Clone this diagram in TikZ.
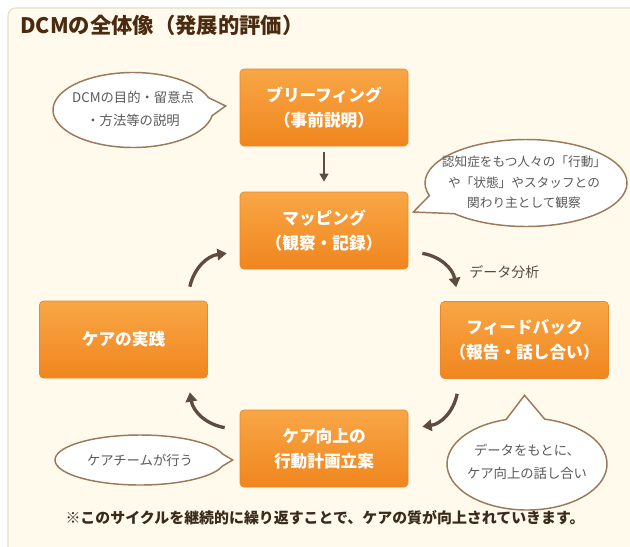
\documentclass[tikz,border=0pt]{standalone}
\usepackage{fontspec}
\setmainfont{Noto Sans CJK JP}
\usetikzlibrary{shapes.callouts,arrows.meta,calc}
\definecolor{panel}{HTML}{FFFAEB}
\definecolor{panelborder}{HTML}{E8DDC4}
\definecolor{titlecol}{HTML}{4A2A10}
\definecolor{notecol}{HTML}{3A2A1C}
\definecolor{arrowcol}{HTML}{5E4C3E}
\definecolor{bubbleborder}{HTML}{9A7A5A}
\definecolor{bubbletext}{HTML}{5A5A5A}
\definecolor{boxtop}{HTML}{F8A646}
\definecolor{boxbot}{HTML}{F0861E}
\definecolor{boxborder}{HTML}{E8882A}
\begin{document}
\begin{tikzpicture}[x=0.75pt,y=0.75pt,
 box/.style={rectangle, rounded corners=3pt, minimum width=126pt, minimum height=57.75pt,
   top color=boxtop, bottom color=boxbot, draw=boxborder, line width=0.5pt, text=white,
   font=\fontsize{12.5}{18.75}\selectfont\bfseries, align=center, inner sep=0pt},
 bubble/.style={ellipse callout, draw=bubbleborder, fill=white, line width=1.1pt, inner sep=0pt,
   callout pointer arc=28},
 btext/.style={text=bubbletext, align=center, inner sep=0pt},
 cyc/.style={draw=arrowcol, line width=2.5pt, -{Triangle[length=7pt,width=8.5pt]}, bend left=35},
 ]
\useasboundingbox (0,0) rectangle (630,-546);
\fill[white] (0,0) rectangle (630,-546);
\draw[panelborder, fill=panel, rounded corners=6pt, line width=0.8pt] (8,-8) rectangle (650,-570);

\node[anchor=west, text=titlecol, font=\fontsize{16}{18}\selectfont\bfseries, inner sep=0pt] (title) at (20,-25) {DCMの全体像（発展的評価）};

\node[box] (brief) at (324,-107.5) {ブリーフィング\\（事前説明）};
\node[box] (map) at (324,-230.5) {マッピング\\（観察・記録）};
\node[box] (care) at (123.5,-339.5) {ケアの実践};
\node[box] (fb) at (524.5,-340) {フィードバック\\（報告・話し合い）};
\node[box] (plan) at (324,-448.5) {ケア向上の\\行動計画立案};

\draw[draw=arrowcol, line width=1.5pt, -{Triangle[length=6pt,width=6.5pt]}] ($(brief.south)+(0,-6)$) -- ($(map.north)+(0,10)$);
\draw[cyc] ($(map.south east)+(14,16)$) to ($(fb.north west)+(16,14)$);
\draw[cyc] ($(fb.south west)+(17,-15)$) to ($(plan.north east)+(14,-17)$);
\draw[cyc] ($(plan.north west)+(-15,-18)$) to ($(care.south east)+(-18,-14)$);
\draw[cyc] ($(care.north east)+(-18,14)$) to ($(map.south west)+(-13,16)$);

\node[anchor=west, text=notecol!85, font=\fontsize{10.5}{12}\selectfont, inner sep=0pt] (lab) at (469,-272) {データ分析};

\node[bubble, minimum width=120pt, minimum height=56.25pt, callout absolute pointer={($(brief.west)+(-14,1.5)$)}] (b1) at (133,-110) {};
\node[btext, font=\fontsize{10}{17.25}\selectfont] (b1t) at (133,-108.5) {DCMの目的・留意点\\・方法等の説明};

\node[bubble, minimum width=151.5pt, minimum height=65.25pt, callout absolute pointer={($(map.east)+(5,18.5)$)}] (b2) at (526,-183) {};
\node[btext, font=\fontsize{9.5}{15.4}\selectfont] (b2t) at (524,-182.5) {認知症をもつ人々の「行動」\\や「状態」やスタッフとの\\関わり主として観察};

\node[bubble, minimum width=127.5pt, minimum height=37.5pt, callout absolute pointer={($(plan.west)+(-7,-11.5)$)}] (b3) at (140,-460) {};
\node[btext, font=\fontsize{10}{16}\selectfont] (b3t) at (140,-460) {ケアチームが行う};

\node[bubble, minimum width=120pt, minimum height=69pt, callout absolute pointer={($(fb.south)+(0,-16.5)$)}] (b4) at (527,-464) {};
\node[btext, font=\fontsize{10}{17.5}\selectfont] (b4t) at (527,-462) {データをもとに、\\ケア向上の話し合い};

\node[text=notecol, font=\fontsize{11.2}{13}\selectfont\bfseries, inner sep=0pt] (note) at (325,-518) {※このサイクルを継続的に繰り返すことで、ケアの質が向上されていきます。};
\end{tikzpicture}
\end{document}
